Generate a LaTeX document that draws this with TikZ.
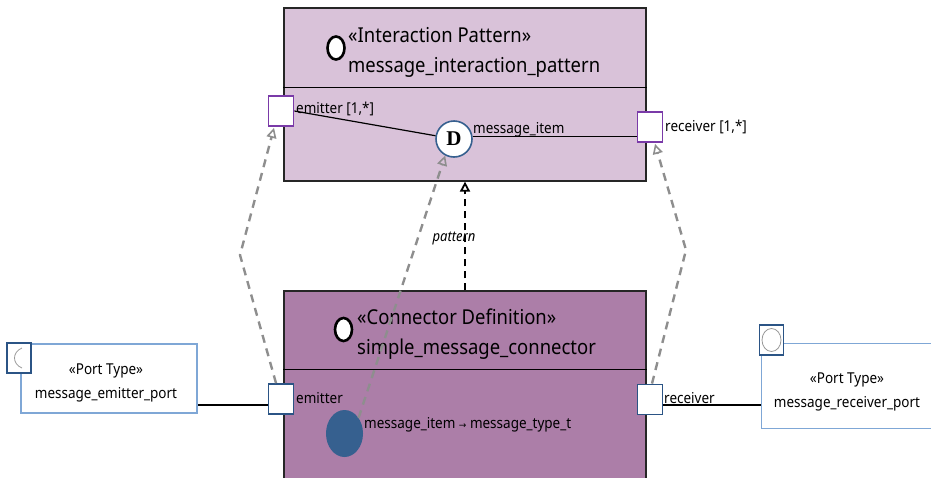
\documentclass[tikz,border=0pt]{standalone}
\usepackage{fontspec}
\setmainfont{Noto Sans}[FakeStretch=0.9]
\newfontfamily\dfont{Liberation Serif}
\newfontfamily\symfont{DejaVu Sans}
\usetikzlibrary{arrows.meta,positioning,calc,shapes.geometric}

\definecolor{patfill}{HTML}{D9C2D9}
\definecolor{confill}{HTML}{AC7EA8}
\definecolor{portviolet}{HTML}{7A3AA8}
\definecolor{portblue}{HTML}{2B5485}
\definecolor{typeblue}{HTML}{7FA7D6}
\definecolor{realgrey}{HTML}{8E8E8E}
\definecolor{itemblue}{HTML}{36608F}

\tikzset{
  classbox/.style={draw=black!85, line width=1.2pt, inner sep=0pt},
  portsq/.style={draw, fill=white, line width=1.8pt, minimum width=25pt, minimum height=30pt, inner sep=0pt},
  typebox/.style={draw=typeblue, fill=white, line width=1.8pt, inner sep=0pt},
  typeicon/.style={draw=portblue, fill=white, line width=1.2pt, minimum width=24pt, minimum height=30pt, inner sep=0pt},
  kindicon/.style={ellipse, draw=black, fill=white, line width=2.6pt, minimum width=17pt, minimum height=23pt, inner sep=0pt},
  titletext/.style={font=\fontsize{20.5}{30}\selectfont, align=left, inner sep=0pt},
  typetext/.style={font=\fontsize{15}{24}\selectfont, align=center, inner sep=0pt},
  lbl/.style={font=\fontsize{15}{17}\selectfont, inner sep=0pt},
  wire/.style={line width=1.6pt},
  realize/.style={realgrey, line width=2.4pt, dash pattern=on 8pt off 6pt,
    -{Triangle[open, length=10pt, width=10pt, line width=1.6pt]}},
  usepattern/.style={black, line width=2.2pt, dash pattern=on 7pt off 5pt,
    -{Triangle[open, length=10pt, width=10pt, line width=1.8pt]}}
}

\begin{document}
\begin{tikzpicture}[x=1pt,y=-1pt]
  \useasboundingbox (0,0) rectangle (931,477);

  % interaction pattern
  \node[classbox, fill=patfill, minimum width=362pt, minimum height=173pt] (pat) at (465,94.5) {};
  \draw[line width=1pt] (pat.west |- 0,87) -- (pat.east |- 0,87);
  \node[kindicon] (paticon) at (336,48) {};
  \node[titletext, anchor=base west] (pattitle) at (348,72)
    {«Interaction Pattern»\\message\_interaction\_pattern};

  % connector definition
  \node[classbox, fill=confill, minimum width=362pt, minimum height=200pt] (con) at (465,391) {};
  \draw[line width=1pt] (con.west |- 0,369) -- (con.east |- 0,369);
  \node[kindicon] (conicon) at (343.5,329.5) {};
  \node[titletext, anchor=base west] (contitle) at (357,354)
    {«Connector Definition»\\simple\_message\_connector};

  % ports
  \node[portsq, draw=portviolet] (ep1) at (281,111) {};
  \node[portsq, draw=portviolet] (rp1) at (650,127) {};
  \node[portsq, draw=portblue] (ep2) at (281,399) {};
  \node[portsq, draw=portblue] (rp2) at (650,399.5) {};

  % role in pattern
  \node[circle, draw=itemblue, fill=white, line width=1.6pt, minimum width=30pt, minimum height=36pt,
        inner sep=0pt, font=\dfont\bfseries\fontsize{21}{21}\selectfont] (dmark) at (454,139) {D};
  \node[ellipse, fill=itemblue, minimum width=37pt, minimum height=47pt, inner sep=0pt] (item) at (344.5,433.5) {};

  \draw[wire, line width=1.2pt] (ep1.east) -- (dmark.170);
  \draw[wire, line width=1.2pt] (dmark.8) -- (dmark.8 -| rp1.west);

  \node[lbl, anchor=base west] at (296,113) {emitter [1,*]};
  \node[lbl, anchor=base west] at (473,133) {message\_item};
  \node[lbl, anchor=base west] at (665,131) {receiver [1,*]};
  \node[lbl, anchor=base west] at (296,403) {emitter};
  \node[lbl, anchor=base west] at (664,403) {receiver};
  \node[lbl, anchor=base west] at (364,428)
    {message\_item\ {\symfont\fontsize{9}{10}\selectfont →}\ message\_type\_t};

  % port types
  \node[typebox, minimum width=176pt, minimum height=69pt] (ltype) at (109,378.5) {};
  \node[typetext] at (106,383) {«Port Type»\\message\_emitter\_port};
  \node[typeicon] (licon) at (19,358) {};
  \draw[gray!80, line width=0.8pt] ($(licon.center)+(3,-10)$)
    .. controls ($(licon.center)+(-7,-6)$) and ($(licon.center)+(-7,6)$) .. ($(licon.center)+(3,10)$);

  \node[typebox, minimum width=171pt, minimum height=85pt] (rtype) at (847,386) {};
  \node[typetext] at (847,392) {«Port Type»\\message\_receiver\_port};
  \node[typeicon] (ricon) at (771.5,340) {};
  \draw[gray!80, line width=0.8pt] (ricon.center) ellipse (9.5 and 11.5);

  \coordinate (ewire) at ($(ep2.west)+(0,6)$);
  \coordinate (rwire) at ($(rp2.east)+(0,5.5)$);
  \draw[wire] (ewire) -- (ewire -| ltype.east);
  \draw[wire] (rwire) -- (rwire -| rtype.west);

  % realizations
  \draw[realize] ($(ep2.north)+(-5,0)$) -- (240,255) -- ($(ep1.south)+(-7,1)$);
  \draw[realize] (item.48) -- (dmark.-118);
  \draw[realize] ($(rp2.north)+(2,0)$) -- (686,250) -- ($(rp1.south)+(5,1)$);

  \draw[usepattern] (con.north) -- (pat.south);
  \node[lbl, font=\fontsize{14.5}{16}\selectfont\itshape] at (454,238) {pattern};
\end{tikzpicture}
\end{document}
